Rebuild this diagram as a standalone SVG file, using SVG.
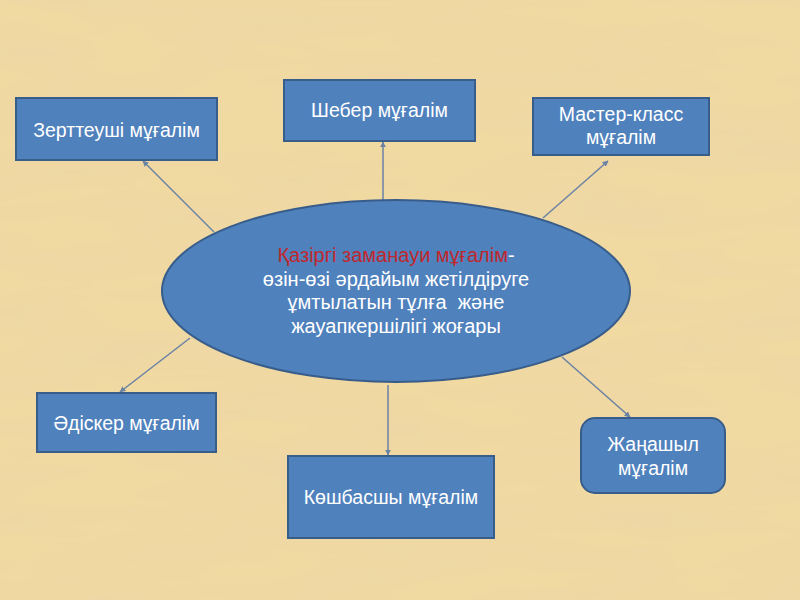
<svg xmlns="http://www.w3.org/2000/svg" width="800" height="600" viewBox="0 0 800 600">
<style>
.node{fill:#4F81BD;stroke:#385D8A;stroke-width:2}
.t{font-family:"Liberation Sans",Arial,sans-serif;font-size:19.5px;fill:#FFFFFF;text-anchor:middle}
.c{font-family:"Liberation Sans",Arial,sans-serif;font-size:20px;fill:#FFFFFF;text-anchor:middle}
.ln{stroke:#6A82A4;stroke-width:1.5;fill:none;marker-end:url(#ah)}
</style>
<defs>
<marker id="ah" viewBox="0 0 10 10" refX="9" refY="5" markerWidth="4" markerHeight="4" orient="auto" markerUnits="strokeWidth">
<path d="M0,0 L10,5 L0,10 z" fill="#6A82A4"/>
</marker>
<filter id="paper" x="0" y="0" width="100%" height="100%">
<feTurbulence type="fractalNoise" baseFrequency="0.006 0.03" numOctaves="3" seed="7" result="n"/>
<feColorMatrix in="n" type="matrix" values="0 0 0 0 0.80  0 0 0 0 0.66  0 0 0 0 0.40  0 0 0 0.8 -0.3" result="m"/>
<feComposite in="m" in2="SourceGraphic" operator="over"/>
</filter>
</defs>
<rect x="0" y="0" width="800" height="600" fill="#F1D9A2" filter="url(#paper)"/>
<g id="connectors">
<line class="ln" x1="214" y1="232" x2="143" y2="161"/>
<line class="ln" x1="383" y1="200" x2="383" y2="142"/>
<line class="ln" x1="543" y1="218" x2="608" y2="161"/>
<line class="ln" x1="190" y1="338" x2="120" y2="392"/>
<line class="ln" x1="388" y1="385" x2="388" y2="455"/>
<line class="ln" x1="562" y1="357" x2="630" y2="417"/>
</g>
<g id="n1"><rect class="node" x="16" y="98" width="201" height="62"/><text class="t" x="116.5" y="137">Зерттеуші мұғалім</text></g>
<g id="n2"><rect class="node" x="284" y="80" width="191" height="61"/><text class="t" x="379.5" y="117">Шебер мұғалім</text></g>
<g id="n3"><rect class="node" x="533" y="98" width="176" height="57"/><text class="t" x="621" y="121">Мастер-класс</text><text class="t" x="621" y="144">мұғалім</text></g>
<g id="center"><ellipse class="node" cx="396" cy="291" rx="234" ry="91"/>
<text class="c" x="396" y="262"><tspan fill="#C0272D">Қазіргі заманауи мұғалім</tspan>-</text>
<text class="c" x="396" y="285.5">өзін-өзі әрдайым жетілдіруге</text>
<text class="c" x="396" y="309" style="white-space:pre">ұмтылатын тұлға  және</text>
<text class="c" x="396" y="332.5">жауапкершілігі жоғары</text></g>
<g id="n4"><rect class="node" x="37" y="393" width="179" height="59"/><text class="t" x="126.5" y="430">Әдіскер мұғалім</text></g>
<g id="n5"><rect class="node" x="288" y="456" width="206" height="82"/><text class="t" x="391" y="504">Көшбасшы мұғалім</text></g>
<g id="n6"><rect class="node" x="581" y="418" width="144" height="75" rx="14"/><text class="t" x="653" y="451">Жаңашыл</text><text class="t" x="653" y="475">мұғалім</text></g>
</svg>
